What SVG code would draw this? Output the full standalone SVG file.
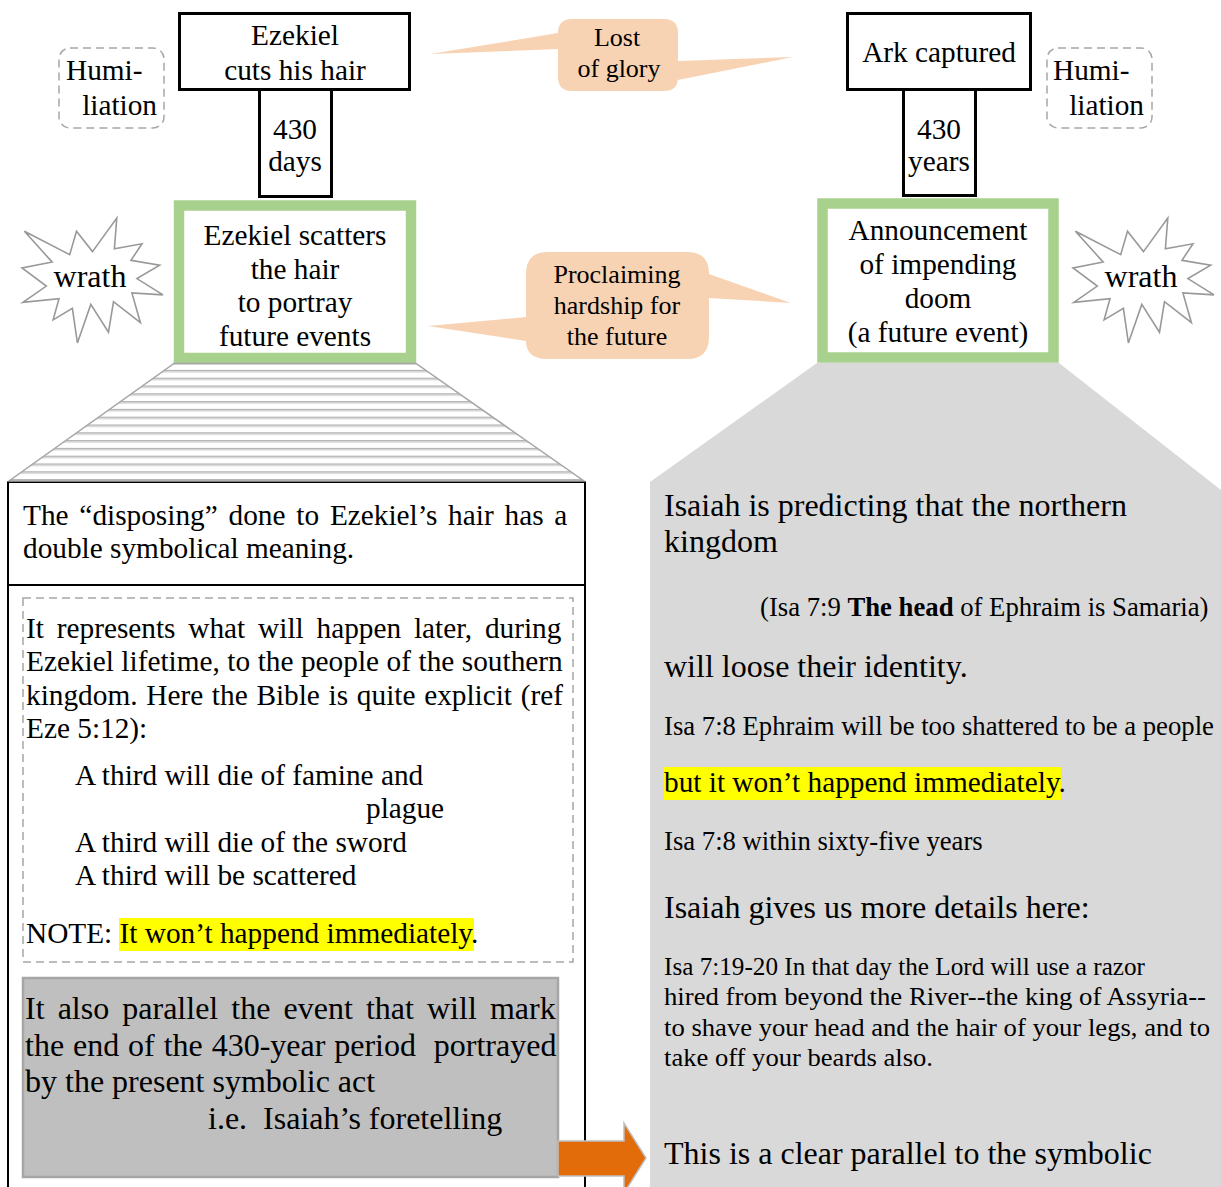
<svg xmlns="http://www.w3.org/2000/svg" width="1221" height="1187" viewBox="0 0 1221 1187">
<style>
text{font-family:"Liberation Serif","Times New Roman",serif;fill:#000}
.c{text-anchor:middle}
.e{text-anchor:end}
.f26{font-size:26px}
.f27{font-size:26.7px}
.f29{font-size:29.3px}
.f32{font-size:32px}
.blk{fill:#fff;stroke:#000;stroke-width:3}
.grn{fill:#fff;stroke:#A9D18E;stroke-width:10.5}
.dash{fill:#fff;stroke:#A6A6A6;stroke-width:1.5;stroke-dasharray:8 5}
.star{fill:#fff;stroke:#999;stroke-width:1.6;stroke-linejoin:miter}
.call{fill:#F8D3B3}
.hl{fill:#FFFF00}
</style>
<defs>
<pattern id="hatch" x="0" y="365" width="8" height="7.8" patternUnits="userSpaceOnUse">
<rect width="8" height="7.8" fill="#fff"/>
<rect y="5" width="8" height="1.3" fill="#a6a6a6"/>
<rect y="6.3" width="8" height="1.2" fill="#d6d6d6"/>
</pattern>
<path id="seal" d="M92.5,251.6 L116.8,218 L114.4,248.8 L142,243.8 L131,260.3 L159.7,265.1 L136.9,278.6 L163,294.9 L131.9,292.9 L140.4,322.7 L113.5,301.7 L108.5,332.2 L90.8,304.4 L77.4,343 L72.4,308.4 L53.1,319.9 L59,298.7 L22.9,302.4 L46.3,286.1 L22,267.9 L52.2,262.1 L24.4,231.3 L69.7,254.6 L76.5,231.3 Z"/>
</defs>

<g id="isaiah-panel">
<polygon points="817,363 1059,363 1221,490 1221,1187 650,1187 650,482" fill="#D9D9D9"/>
<text class="f32" x="664" y="516">Isaiah is predicting that the northern</text>
<text class="f32" x="664" y="552">kingdom</text>
<text class="f27" x="760" y="616">(Isa 7:9 <tspan font-weight="bold">The head</tspan> of Ephraim is Samaria)</text>
<text class="f32" x="664" y="677">will loose their identity.</text>
<text class="f27" x="664" y="735">Isa 7:8 Ephraim will be too shattered to be a people</text>
<rect class="hl" x="664" y="767" width="397" height="33"/>
<text class="f29" x="664" y="792">but it won’t happend immediately.</text>
<text class="f27" x="664" y="850">Isa 7:8 within sixty-five years</text>
<text class="f32" x="664" y="918">Isaiah gives us more details here:</text>
<text font-size="25.6" x="664" y="975" textLength="481" lengthAdjust="spacingAndGlyphs">Isa 7:19-20 In that day the Lord will use a razor</text>
<text font-size="25.6" x="664" y="1005" textLength="542" lengthAdjust="spacingAndGlyphs">hired from beyond the River--the king of Assyria--</text>
<text font-size="25.6" x="664" y="1036" textLength="546" lengthAdjust="spacingAndGlyphs">to shave your head and the hair of your legs, and to</text>
<text font-size="25.6" x="664" y="1066" textLength="269" lengthAdjust="spacingAndGlyphs">take off your beards also.</text>
<text class="f32" x="664" y="1164">This is a clear parallel to the symbolic</text>
</g>

<g id="ezekiel-cuts">
<rect class="blk" x="179.5" y="13.5" width="230" height="76"/>
<text class="c f29" x="295" y="45">Ezekiel</text>
<text class="c f29" x="295" y="80">cuts his hair</text>
</g>
<g id="days-430">
<rect class="blk" x="259.5" y="89.5" width="72" height="107"/>
<text class="c f29" x="295" y="139">430</text>
<text class="c f29" x="295" y="171">days</text>
</g>
<g id="humiliation-left">
<rect class="dash" x="59" y="48" width="105" height="80" rx="11"/>
<text class="f29" x="66" y="80">Humi-</text>
<text class="e f29" x="157" y="115">liation</text>
</g>
<g id="ark-captured">
<rect class="blk" x="847.5" y="13.5" width="183" height="76"/>
<text class="c f29" x="939" y="62">Ark captured</text>
</g>
<g id="years-430">
<rect class="blk" x="903.5" y="89.5" width="72" height="106"/>
<text class="c f29" x="939" y="139">430</text>
<text class="c f29" x="939" y="171">years</text>
</g>
<g id="humiliation-right">
<rect class="dash" x="1047" y="48" width="105" height="80" rx="11"/>
<text class="f29" x="1053" y="80">Humi-</text>
<text class="e f29" x="1144" y="115">liation</text>
</g>
<g id="lost-of-glory">
<path class="call" d="M572,19 H664 Q678,19 678,33 V61 L793,57 L678,80 V77 Q678,91 664,91 H572 Q558,91 558,77 V49 L430,54 L558,33 Q558,19 572,19 Z"/>
<text class="c f26" x="617" y="46">Lost</text>
<text class="c f26" x="619" y="77">of glory</text>
</g>
<g id="wrath-left">
<use href="#seal" class="star"/>
<text class="c f32" x="90" y="287">wrath</text>
</g>
<g id="ezekiel-scatters">
<rect class="grn" x="179" y="205.5" width="232" height="152.5"/>
<text class="c f29" x="295" y="245">Ezekiel scatters</text>
<text class="c f29" x="295" y="279">the hair</text>
<text class="c f29" x="295" y="312">to portray</text>
<text class="c f29" x="295" y="346">future events</text>
</g>
<g id="proclaiming">
<path class="call" d="M548,252 H687 Q709,252 709,274 L791,303 L709,298 V337 Q709,359 687,359 H548 Q526,359 526,341 L428,326 L526,317 V274 Q526,252 548,252 Z"/>
<text class="c f26" x="617" y="283">Proclaiming</text>
<text class="c f26" x="617" y="314">hardship for</text>
<text class="c f26" x="617" y="345">the future</text>
</g>
<g id="announcement">
<rect class="grn" x="822.5" y="203.5" width="231" height="154"/>
<text class="c f29" x="938" y="240">Announcement</text>
<text class="c f29" x="938" y="274">of impending</text>
<text class="c f29" x="938" y="308">doom</text>
<text class="c f29" x="938" y="342">(a future event)</text>
</g>
<g id="wrath-right">
<use href="#seal" class="star" transform="translate(1051,0)"/>
<text class="c f32" x="1141" y="287">wrath</text>
</g>

<g id="ezekiel-panel">
<rect x="8" y="482" width="577" height="730" fill="#fff" stroke="#000" stroke-width="2"/>
<line x1="8" y1="585" x2="585" y2="585" stroke="#000" stroke-width="2"/>
<text class="f29" x="23" y="525" word-spacing="3.5">The “disposing” done to Ezekiel’s hair has a</text>
<text class="f29" x="23" y="558">double symbolical meaning.</text>
<rect class="dash" x="23" y="598" width="550" height="364"/>
<text class="f29" x="26" y="638" word-spacing="5.5">It represents what will happen later, during</text>
<text class="f29" x="26" y="671" word-spacing="0.2">Ezekiel lifetime, to the people of the southern</text>
<text class="f29" x="26" y="705" word-spacing="1.4">kingdom. Here the Bible is quite explicit (ref</text>
<text class="f29" x="26" y="738">Eze 5:12):</text>
<text class="f29" x="75" y="785">A third will die of famine and</text>
<text class="f29" x="366" y="818">plague</text>
<text class="f29" x="75" y="852">A third will die of the sword</text>
<text class="f29" x="75" y="885">A third will be scattered</text>
<rect class="hl" x="119" y="918" width="355" height="33"/>
<text class="f29" x="26" y="943">NOTE: It won’t happend immediately.</text>
<rect x="23" y="978" width="535" height="199" fill="#BFBFBF" stroke="#A6A6A6" stroke-width="2.5"/>
<text class="f32" x="25" y="1019" word-spacing="5.1">It also parallel the event that will mark</text>
<text class="f32" x="25" y="1056" word-spacing="0.9">the end of the 430-year period&#160; portrayed</text>
<text class="f32" x="25" y="1092">by the present symbolic act</text>
<text class="f32" x="208" y="1129">i.e.&#160; Isaiah’s foretelling</text>
</g>

<g id="connectors">
<polygon points="174,363.5 416,363.5 584,481 9,481" fill="url(#hatch)" stroke="#a6a6a6" stroke-width="1.5"/>
<polygon points="558,1141 624,1141 624,1123 646,1158 624,1193 624,1176 558,1176" fill="#E36C0A" stroke="#BFBFBF" stroke-width="1.5"/>
</g>
</svg>
